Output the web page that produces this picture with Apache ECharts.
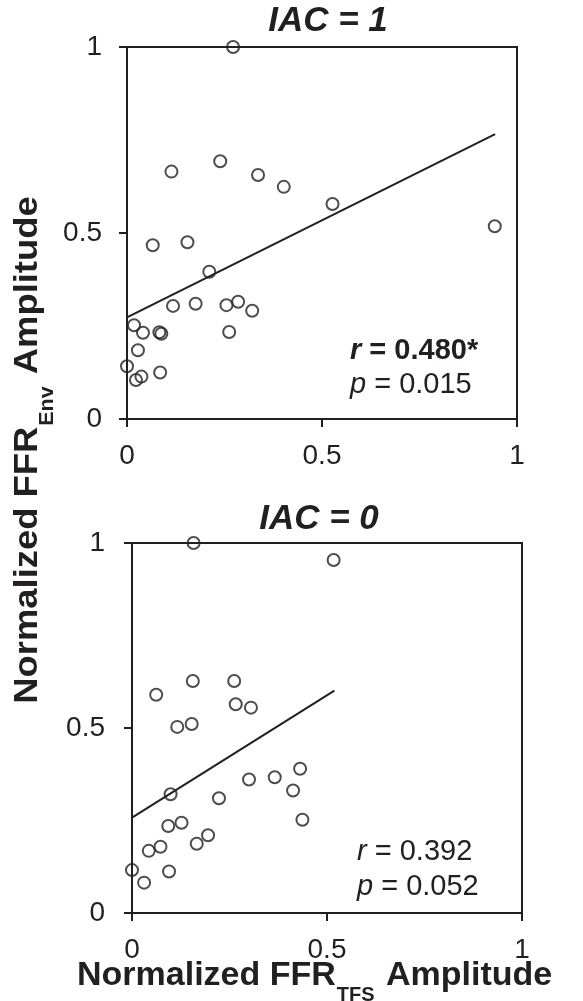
<!DOCTYPE html>
<html>
<head>
<meta charset="utf-8">
<script src="https://cdn.jsdelivr.net/npm/echarts@6/dist/echarts.min.js"></script>
<style>
html,body{margin:0;padding:0;background:#fff;}
#chart{width:583px;height:1001px;}
</style>
</head>
<body>
<div id="chart"></div>
<script>
// ---- Data ----
var panelTitles = ['IAC = 1', 'IAC = 0'];
var axisTicks = [0, 0.5, 1];

// IAC = 1 panel: x = normalized FFR_TFS amplitude, y = normalized FFR_Env amplitude
var tfsIAC1 = [0.272, 0.114, 0.239, 0.336, 0.402, 0.527, 0.943, 0.066, 0.155, 0.211,
               0.118, 0.176, 0.255, 0.285, 0.321, 0.262, 0.018, 0.041, 0.083, 0.088,
               0.028, 0.000, 0.085, 0.023, 0.037];
var envIAC1 = [1.000, 0.665, 0.693, 0.656, 0.624, 0.578, 0.518, 0.467, 0.475, 0.396,
               0.304, 0.310, 0.306, 0.315, 0.291, 0.234, 0.252, 0.232, 0.233, 0.229,
               0.185, 0.142, 0.125, 0.105, 0.114];
var fitIAC1X = [0, 0.944];
var fitIAC1Y = [0.273, 0.766];

// IAC = 0 panel
var tfsIAC0 = [0.158, 0.517, 0.062, 0.156, 0.262, 0.266, 0.305, 0.116, 0.153, 0.431,
               0.366, 0.300, 0.413, 0.223, 0.099, 0.437, 0.127, 0.093, 0.195, 0.166,
               0.073, 0.043, 0.000, 0.095, 0.031];
var envIAC0 = [1.000, 0.954, 0.590, 0.627, 0.627, 0.564, 0.555, 0.503, 0.511, 0.390,
               0.367, 0.361, 0.331, 0.310, 0.321, 0.252, 0.244, 0.235, 0.210, 0.187,
               0.179, 0.168, 0.116, 0.112, 0.082];
var fitIAC0X = [0, 0.519];
var fitIAC0Y = [0.258, 0.601];

var statR = ['0.480', '0.392'];
var statP = ['0.015', '0.052'];
var statSig = [true, false];

// ---- Build ----
function zip(a, b) { return a.map(function (v, i) { return [v, b[i]]; }); }

var INK = '#231f20';
var FONT = '"Liberation Sans", Arial, sans-serif';
var STAT_FS = 29;

var grids = [
  { left: 127, top: 47, width: 390, height: 372 },
  { left: 132, top: 543, width: 390, height: 370 }
];

function mkAxis(gi, type) {
  return {
    type: 'value', gridIndex: gi, min: axisTicks[0], max: axisTicks[axisTicks.length - 1],
    interval: axisTicks[1] - axisTicks[0],
    axisLine: { show: true, onZero: false, lineStyle: { color: INK, width: 2 } },
    axisTick: { show: true, inside: false, length: 8, lineStyle: { color: INK, width: 2 } },
    splitLine: { show: false },
    axisLabel: {
      color: INK, fontFamily: FONT, fontSize: 28,
      margin: type === 'x' ? 23 : (gi === 0 ? 25 : 27),
      formatter: function (v) { return String(v); }
    }
  };
}

var chart = echarts.init(document.getElementById('chart'), null, { renderer: 'canvas' });

var scatterStyle = { color: 'rgba(0,0,0,0)', borderColor: INK, borderWidth: 2 };

function statText(x, y, letter, value, bold) {
  var w = bold ? 'bold' : 'normal';
  return { type: 'text', x: x, y: y, style: {
    text: '{i|' + letter + '}{n| = ' + value + '}', align: 'left', verticalAlign: 'middle',
    rich: { i: { fontFamily: FONT, fontSize: STAT_FS, fontStyle: 'italic', fontWeight: w, fill: INK, color: INK },
            n: { fontFamily: FONT, fontSize: STAT_FS, fontWeight: w, fill: INK, color: INK } } } };
}

var option = {
  backgroundColor: '#ffffff',
  animation: false,
  grid: grids.map(function (g) {
    return Object.assign({ show: true, borderColor: INK, borderWidth: 2, backgroundColor: 'transparent', containLabel: false }, g);
  }),
  xAxis: [mkAxis(0, 'x'), mkAxis(1, 'x')],
  yAxis: [mkAxis(0, 'y'), mkAxis(1, 'y')],
  series: [
    { type: 'line', xAxisIndex: 0, yAxisIndex: 0, data: zip(fitIAC1X, fitIAC1Y), showSymbol: false, symbol: 'none',
      lineStyle: { color: INK, width: 2 }, z: 3 },
    { type: 'scatter', xAxisIndex: 0, yAxisIndex: 0, data: zip(tfsIAC1, envIAC1), symbol: 'circle', symbolSize: 12,
      itemStyle: scatterStyle, clip: false, z: 4 },
    { type: 'line', xAxisIndex: 1, yAxisIndex: 1, data: zip(fitIAC0X, fitIAC0Y), showSymbol: false, symbol: 'none',
      lineStyle: { color: INK, width: 2 }, z: 3 },
    { type: 'scatter', xAxisIndex: 1, yAxisIndex: 1, data: zip(tfsIAC0, envIAC0), symbol: 'circle', symbolSize: 12,
      itemStyle: scatterStyle, clip: false, z: 4 }
  ],
  graphic: [
    { type: 'text', x: 328, y: 21, style: { text: panelTitles[0], font: 'italic bold 35px ' + FONT, fill: INK, align: 'center', verticalAlign: 'middle' } },
    { type: 'text', x: 319, y: 519, style: { text: panelTitles[1], font: 'italic bold 35px ' + FONT, fill: INK, align: 'center', verticalAlign: 'middle' } },
    statText(350, 351, 'r', statR[0] + (statSig[0] ? '*' : ''), statSig[0]),
    statText(350, 385, 'p', statP[0], false),
    statText(357, 852, 'r', statR[1] + (statSig[1] ? '*' : ''), statSig[1]),
    statText(357, 887, 'p', statP[1], false),
    // x axis title
    { type: 'text', x: 77, y: 976, style: {
        text: '{m|Normalized FFR}{s|TFS}{m| Amplitude}', align: 'left', verticalAlign: 'middle',
        rich: { m: { fontFamily: FONT, fontSize: 34, fontWeight: 'bold', fill: INK, color: INK, lineHeight: 34 },
                s: { fontFamily: FONT, fontSize: 20, fontWeight: 'bold', fill: INK, color: INK, lineHeight: 20, verticalAlign: 'bottom', padding: [0, 2, -12, 1] } } } },
    // y axis title
    { type: 'text', x: 28, y: 450, rotation: Math.PI / 2, scaleX: 1.07, style: {
        text: '{m|Normalized FFR}{s|Env}{m| Amplitude}', align: 'center', verticalAlign: 'middle',
        rich: { m: { fontFamily: FONT, fontSize: 34, fontWeight: 'bold', fill: INK, color: INK, lineHeight: 34 },
                s: { fontFamily: FONT, fontSize: 20, fontWeight: 'bold', fill: INK, color: INK, lineHeight: 20, verticalAlign: 'bottom', padding: [0, 2, -12, 1] } } } }
  ]
};
chart.setOption(option);
</script>
</body>
</html>
